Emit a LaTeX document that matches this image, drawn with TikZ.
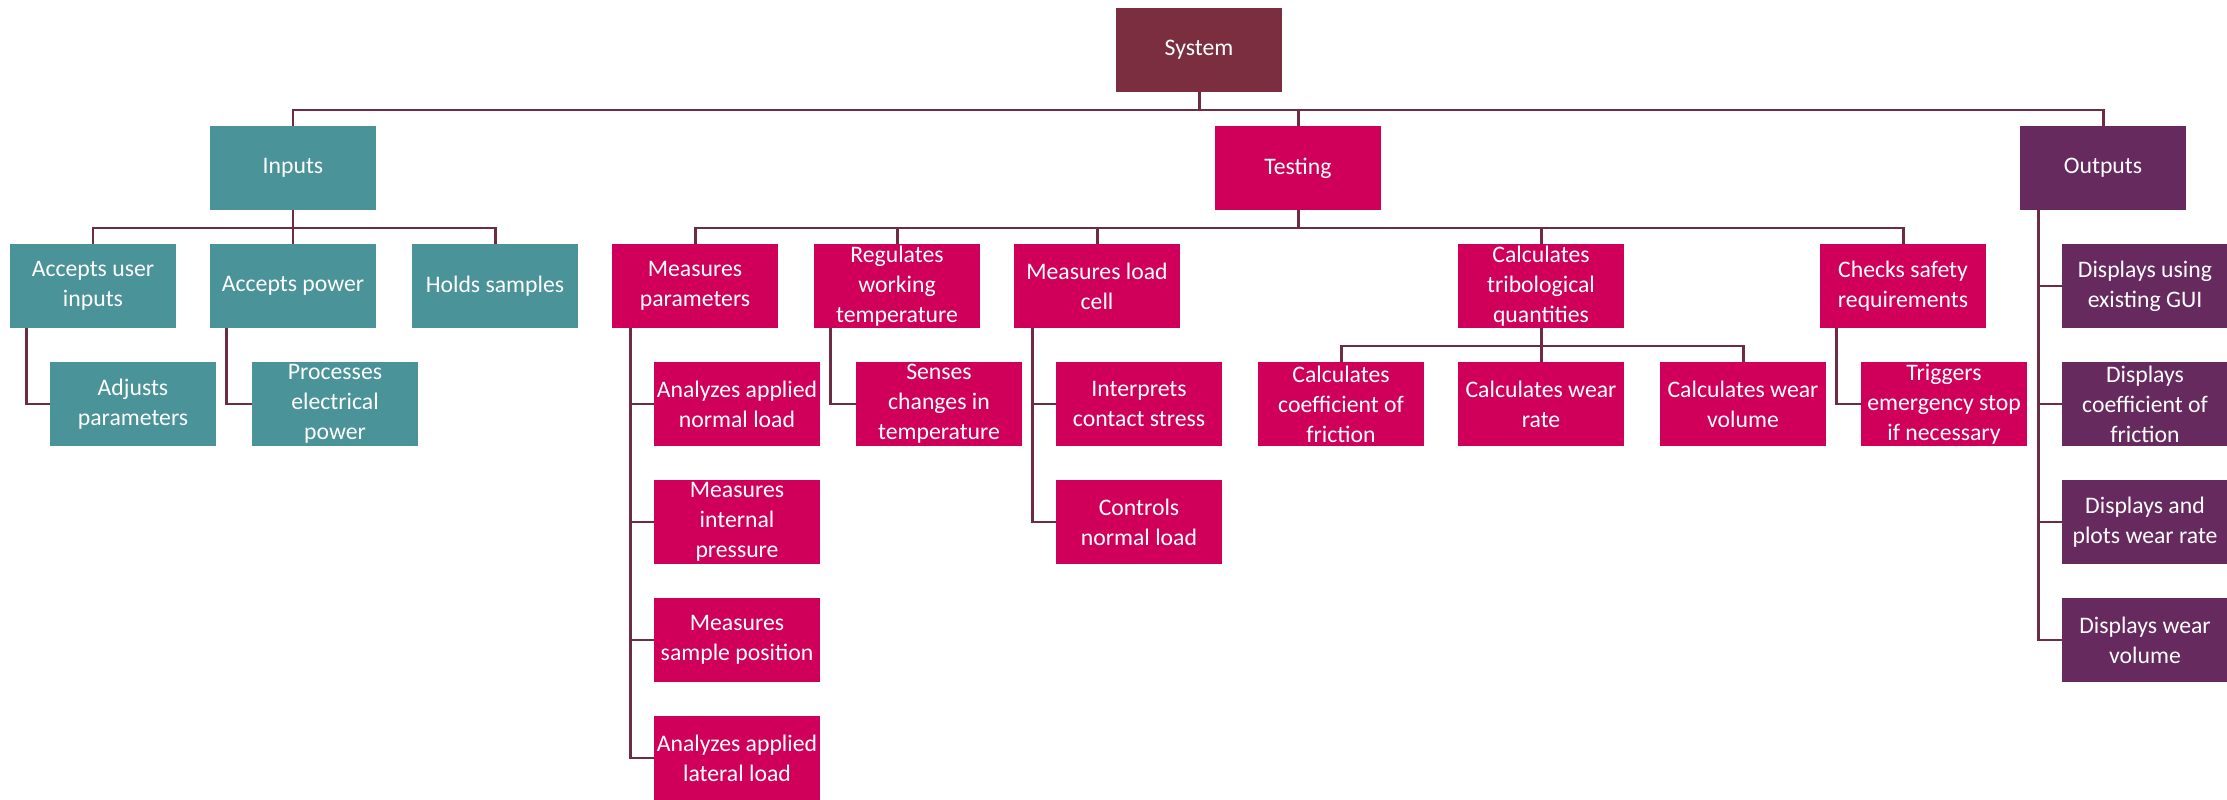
\documentclass[tikz,border=0pt]{standalone}
\usepackage{fontspec}
\setmainfont{Carlito}
\usetikzlibrary{positioning,calc}
\definecolor{sysred}{HTML}{7A2E40}
\definecolor{inteal}{HTML}{4A9399}
\definecolor{testpink}{HTML}{D0005A}
\definecolor{outpurple}{HTML}{672A5E}
\definecolor{linkred}{HTML}{6E2C42}

\begin{document}
\begin{tikzpicture}[x=0.02cm, y=-0.02cm,
	box/.style={minimum width=3.32cm, minimum height=1.68cm, inner xsep=1pt, inner ysep=0pt,
		align=center, text=white, font=\fontsize{13.5}{17}\selectfont},
	sysbox/.style={box, fill=sysred},
	inbox/.style={box, fill=inteal},
	testbox/.style={box, fill=testpink},
	outbox/.style={box, fill=outpurple},
	link/.style={draw=linkred, line width=1.7pt}]
	\useasboundingbox (0,0) rectangle (2227,800);

	% top levels
	\node[sysbox] (sys) at (1199,50) {System};
	\node[inbox] (inp) at (293,168) {Inputs};
	\node[testbox] (tst) at (1298,168) {Testing};
	\node[outbox] (out) at (2103,168) {Outputs};

	% inputs
	\node[inbox] (aui) at (93,286) {Accepts user\\inputs};
	\node[inbox] (apw) at (293,286) {Accepts power};
	\node[inbox] (hsm) at (495,286) {Holds samples};
	\node[inbox] (adj) at (133,404) {Adjusts\\parameters};
	\node[inbox] (pep) at (335,404) {Processes\\electrical\\power};

	% testing
	\node[testbox] (mpa) at (695,286) {Measures\\parameters};
	\node[testbox] (rwt) at (897,286) {Regulates\\working\\temperature};
	\node[testbox] (mlc) at (1097,286) {Measures load\\cell};
	\node[testbox] (ctq) at (1541,286) {Calculates\\tribological\\quantities};
	\node[testbox] (csr) at (1903,286) {Checks safety\\requirements};
	\node[testbox] (anl) at (737,404) {Analyzes applied\\normal load};
	\node[testbox] (mip) at (737,522) {Measures\\internal\\pressure};
	\node[testbox] (msp) at (737,640) {Measures\\sample position};
	\node[testbox] (all) at (737,758) {Analyzes applied\\lateral load};
	\node[testbox] (sct) at (939,404) {Senses\\changes in\\temperature};
	\node[testbox] (ics) at (1139,404) {Interprets\\contact stress};
	\node[testbox] (cnl) at (1139,522) {Controls\\normal load};
	\node[testbox] (ccf) at (1341,404) {Calculates\\coefficient of\\friction};
	\node[testbox] (cwr) at (1541,404) {Calculates wear\\rate};
	\node[testbox] (cwv) at (1743,404) {Calculates wear\\volume};
	\node[testbox] (tes) at (1944,404) {Triggers\\emergency stop\\if necessary};

	% outputs
	\node[outbox] (dgu) at (2145,286) {Displays using\\existing GUI};
	\node[outbox] (dcf) at (2145,404) {Displays\\coefficient of\\friction};
	\node[outbox] (dwr) at (2145,522) {Displays and\\plots wear rate};
	\node[outbox] (dwv) at (2145,640) {Displays wear\\volume};

	% links
	\coordinate (topbar) at (0,110);
	\coordinate (midbar) at (0,228);
	\coordinate (ctqbar) at (0,346);
	\draw[link] (sys.south) -- (sys.south |- topbar);
	\draw[link] (inp.north) |- (out.north |- topbar) -- (out.north);
	\draw[link] (tst.north) -- (tst.north |- topbar);

	\draw[link] (aui.north) |- (hsm.north |- midbar) -- (hsm.north);
	\draw[link] (inp.south) -- (apw.north);
	\draw[link] ($(aui.south west)+(17,0)$) |- (adj.west);
	\draw[link] ($(apw.south west)+(17,0)$) |- (pep.west);

	\draw[link] (mpa.north) |- (csr.north |- midbar) -- (csr.north);
	\draw[link] (tst.south) -- (tst.south |- midbar);
	\foreach \n in {rwt,mlc,ctq}
		\draw[link] (\n.north) -- (\n.north |- midbar);
	\foreach \n in {anl,mip,msp,all}
		\draw[link] ($(mpa.south west)+(19,0)$) |- (\n.west);
	\draw[link] ($(rwt.south west)+(17,0)$) |- (sct.west);
	\foreach \n in {ics,cnl}
		\draw[link] ($(mlc.south west)+(19,0)$) |- (\n.west);
	\draw[link] (ccf.north) |- (cwv.north |- ctqbar) -- (cwv.north);
	\draw[link] (ctq.south) -- (cwr.north);
	\draw[link] ($(csr.south west)+(17,0)$) |- (tes.west);

	\foreach \n in {dgu,dcf,dwr,dwv}
		\draw[link] ($(out.south west)+(19,0)$) |- (\n.west);
\end{tikzpicture}
\end{document}
